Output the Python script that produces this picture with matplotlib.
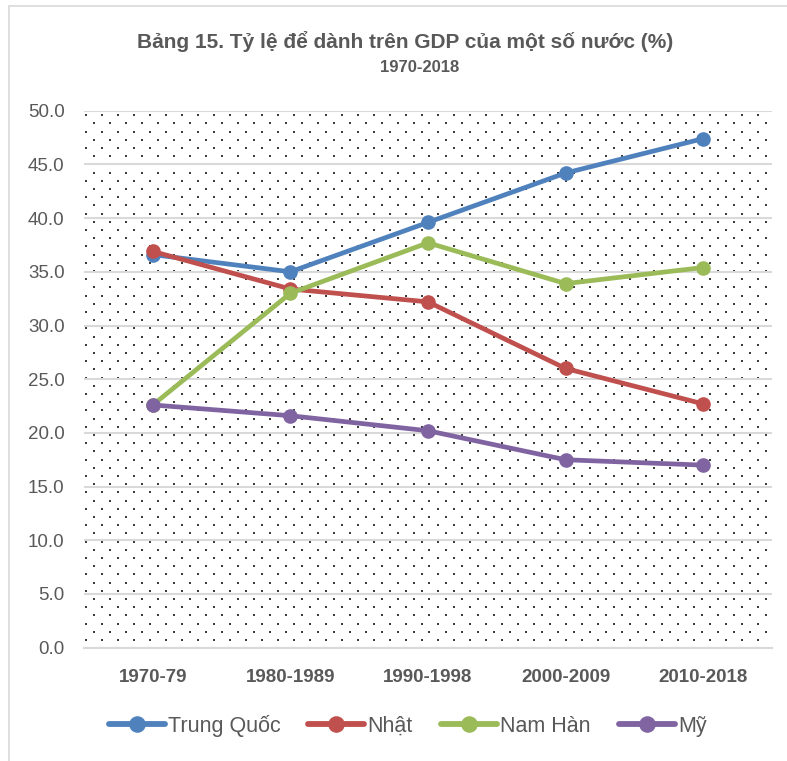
import numpy as np
import matplotlib
matplotlib.use("Agg")
import matplotlib.pyplot as plt
from matplotlib.patches import Rectangle

# Savings as a share of GDP (%), by period
periods = ["1970-79", "1980-1989", "1990-1998", "2000-2009", "2010-2018"]
trung_quoc = [36.6, 35.0, 39.6, 44.2, 47.4]
nhat = [36.9, 33.4, 32.2, 26.0, 22.7]
nam_han = [22.6, 33.0, 37.7, 33.9, 35.4]
my = [22.6, 21.6, 20.2, 17.5, 17.0]

series_names = ["Trung Quốc", "Nhật", "Nam Hàn", "Mỹ"]
series_values = [trung_quoc, nhat, nam_han, my]
series_colors = ["#4F81BD", "#C0504D", "#9BBB59", "#8064A2"]

y_ticks = [0, 5, 10, 15, 20, 25, 30, 35, 40, 45, 50]

title_line1 = "Bảng 15. Tỷ lệ để dành trên GDP của một số nước (%)"
title_line2 = "1970-2018"

plt.rcParams["font.family"] = ["Liberation Sans", "DejaVu Sans"]
text_gray = "#595959"

W, H, DPI = 787, 761, 100
fig = plt.figure(figsize=(W / DPI, H / DPI), dpi=DPI)
fig.patch.set_facecolor("white")

# chart-area border
fig.patches.append(Rectangle((9 / W, -0.01), 1.0, 1 - 6 / H + 0.01,
                             transform=fig.transFigure, fill=False,
                             edgecolor="#D9D9D9", linewidth=1.2))

left, right, bottom, top = 84, 772, 647.7, 110.7
ax = fig.add_axes([left / W, 1 - bottom / H, (right - left) / W, (bottom - top) / H])

x = np.arange(len(periods))
ax.set_xlim(-0.5, len(periods) - 0.5)
ax.set_ylim(0, 50)

# dotted background texture
aw, ah = right - left, bottom - top
step_x, step_y = 16.0, 8.2
rows = np.arange(4.5, ah, step_y)
pts_x, pts_y = [], []
for i, ry in enumerate(rows):
    off = 8.0 if i % 2 else 0.0
    cols = np.arange(1.5 + off, aw, step_x)
    pts_x.extend(cols / aw)
    pts_y.extend([1 - ry / ah] * len(cols))
ax.scatter(pts_x, pts_y, s=1.8, marker="s", color="#3C3C3C", linewidths=0,
           transform=ax.transAxes, zorder=0.5)

ax.set_yticks(y_ticks)
ax.set_yticklabels([f"{v:.1f}" for v in y_ticks])
ax.set_xticks(x)
ax.set_xticklabels(periods, fontweight="bold")
ax.grid(axis="y", color="#D9D9D9", linewidth=1.5, zorder=1)
ax.set_axisbelow(True)
for s in ["top", "right", "left"]:
    ax.spines[s].set_visible(False)
ax.spines["bottom"].set_color("#D9D9D9")
ax.spines["bottom"].set_linewidth(1.5)
ax.tick_params(axis="both", length=0, colors=text_gray)
ax.tick_params(axis="y", labelsize=13.5, pad=14)
ax.tick_params(axis="x", labelsize=13.5, pad=15)

for name, vals, col in zip(series_names, series_values, series_colors):
    ax.plot(x, vals, color=col, linewidth=3.4, marker="o", markersize=9.5,
            label=name, zorder=3, solid_capstyle="round")

fig.text(405 / W, 1 - 42 / H, title_line1, ha="center", va="center",
         fontsize=15, fontweight="bold", color=text_gray)
fig.text(420 / W, 1 - 67 / H, title_line2, ha="center", va="center",
         fontsize=12, fontweight="bold", color=text_gray)

leg = fig.legend(loc="center", bbox_to_anchor=(407.5 / W, 1 - 726 / H), ncol=4,
                 frameon=False, fontsize=15.5,
                 handlelength=2.6, handletextpad=0.15, columnspacing=1.3,
                 markerscale=1.15)
for t in leg.get_texts():
    t.set_color(text_gray)
for h in leg.legend_handles:
    h.set_linewidth(4.2)

fig.savefig("out.png", dpi=DPI, facecolor="white")
